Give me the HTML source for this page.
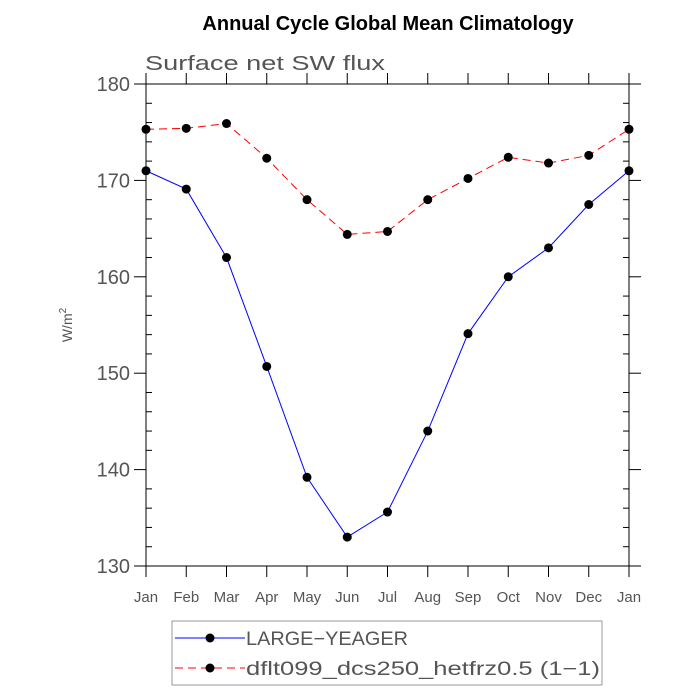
<!DOCTYPE html>
<html><head><meta charset="utf-8"><style>
body{margin:0;background:#fff;}
svg{display:block;font-family:"Liberation Sans",sans-serif;}
</style></head><body>
<svg id="chart" width="700" height="700" viewBox="0 0 700 700">
<text x="388" y="30" text-anchor="middle" font-size="20" font-weight="bold" fill="#000">Annual Cycle Global Mean Climatology</text>
<text x="145" y="70" font-size="20" fill="#555" textLength="240" lengthAdjust="spacingAndGlyphs">Surface net SW flux</text>
<text transform="translate(72,325) rotate(-90)" text-anchor="middle" font-size="14" fill="#555">W/m<tspan font-size="10" dy="-6">2</tspan></text>
<g id="axes"></g>
<g id="series"></g>
<g>
<rect x="172" y="621" width="430" height="64" fill="none" stroke="#999" stroke-width="1"/>
<g>
<line x1="175" y1="638" x2="245" y2="638" stroke="#0000ff" stroke-width="1"/>
<circle cx="210" cy="638" r="4.5" fill="#000"/>
<text x="246" y="645" font-size="19" fill="#555" textLength="162" lengthAdjust="spacingAndGlyphs">LARGE−YEAGER</text>
</g>
<g>
<line x1="175" y1="668" x2="245" y2="668" stroke="#ff0000" stroke-width="1" stroke-dasharray="8,5"/>
<circle cx="210" cy="668" r="4.5" fill="#000"/>
<text x="246" y="675" font-size="19" fill="#555" textLength="354" lengthAdjust="spacingAndGlyphs">dflt099_dcs250_hetfrz0.5 (1−1)</text>
</g>
</g>
</svg>
<script>
const months = ["Jan","Feb","Mar","Apr","May","Jun","Jul","Aug","Sep","Oct","Nov","Dec","Jan"];
const largeYeager = [171.0,169.1,162.0,150.7,139.2,133.0,135.6,144.0,154.1,160.0,163.0,167.5,171.0];
const dflt099 = [175.3,175.4,175.9,172.3,168.0,164.4,164.7,168.0,170.2,172.4,171.8,172.6,175.3];
const yTicks = [130,140,150,160,170,180];

const NS = "http://www.w3.org/2000/svg";
const L = 146, R = 629, T = 84, B = 566, yMin = 130, yMax = 180;
const xs = i => L + i * (R - L) / (months.length - 1);
const ys = v => B - (v - yMin) / (yMax - yMin) * (B - T);
function mk(tag, attrs, parent){ const e = document.createElementNS(NS, tag); for (const k in attrs) e.setAttribute(k, attrs[k]); parent.appendChild(e); return e; }
const axes = document.getElementById('axes');
const frame = mk('rect', {x:L, y:T, width:R-L, height:B-T, fill:'none', stroke:'#000', 'stroke-width':1}, axes);


months.forEach((m, i) => {
  const x = xs(i);
  mk('line', {x1:x, y1:B, x2:x, y2:B+11, stroke:'#000'}, axes);
  mk('line', {x1:x, y1:T, x2:x, y2:T-11, stroke:'#000'}, axes);
  const t = mk('text', {x:x, y:B+36, 'text-anchor':'middle', 'font-size':15, fill:'#555'}, axes);
  t.textContent = m;
  
  
});
for (let v = yMin; v <= yMax; v += 2) {
  const y = ys(v);
  if ((v - yMin) % 10 === 0) {
    mk('line', {x1:L-12, y1:y, x2:L, y2:y, stroke:'#000'}, axes);
    mk('line', {x1:R, y1:y, x2:R+12, y2:y, stroke:'#000'}, axes);
  } else {
    mk('line', {x1:L, y1:y, x2:L+6, y2:y, stroke:'#000'}, axes);
    mk('line', {x1:R-6, y1:y, x2:R, y2:y, stroke:'#000'}, axes);
  }
}
yTicks.forEach(v => {
  const t = mk('text', {x:L-16, y:ys(v)+7, 'text-anchor':'end', 'font-size':20, fill:'#555'}, axes);
  t.textContent = v;
  
  
});
const series = document.getElementById('series');
function draw(vals, color, dash, name){
  const g = mk('g', {}, series);
  
  
  const pl = mk('polyline', {points: vals.map((v,i)=>xs(i)+','+ys(v)).join(' '), fill:'none', stroke:color, 'stroke-width':1}, g);
  if (dash) pl.setAttribute('stroke-dasharray', dash);
  vals.forEach((v,i) => {
    const c = mk('circle', {cx:xs(i), cy:ys(v), r:4.5, fill:'#000'}, g);
    
    
  });
}
draw(largeYeager, '#0000ff', null, 'series-large-yeager');
draw(dflt099, '#ff0000', '8,5', 'series-dflt099');
</script>
</body></html>
